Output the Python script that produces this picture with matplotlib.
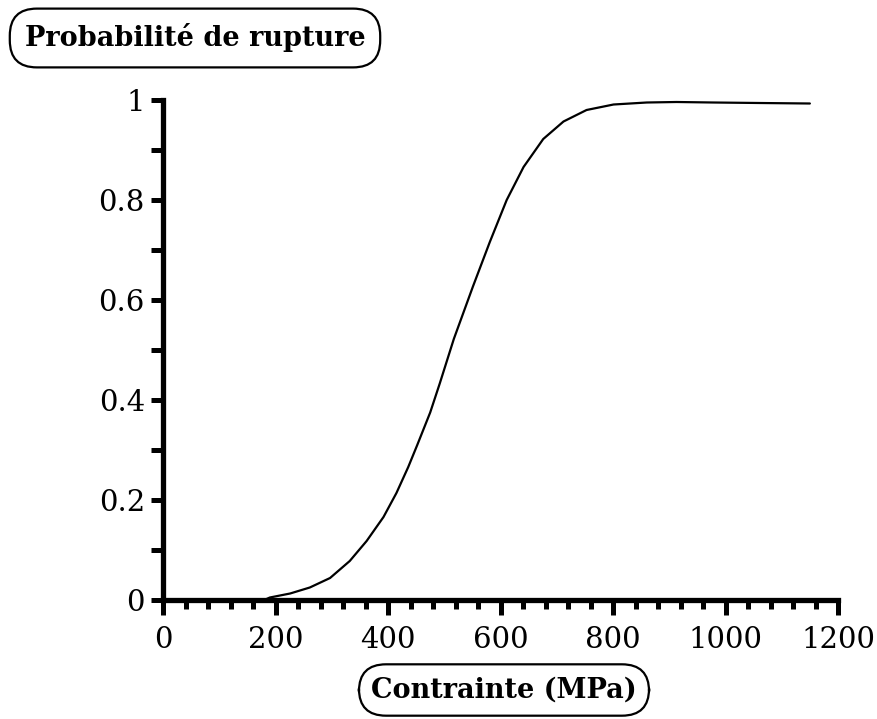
import matplotlib
matplotlib.use("Agg")
import matplotlib.pyplot as plt
from matplotlib.ticker import MultipleLocator, FixedLocator

# Data
stress = [180, 190, 226, 261, 297, 332, 362, 392, 415, 436, 452, 475, 492,
          517, 551, 581, 611, 641, 676, 712, 753, 801, 860, 913, 978, 1060, 1150]
prob = [0.0, 0.005, 0.013, 0.025, 0.044, 0.078, 0.118, 0.166, 0.214, 0.266,
        0.310, 0.375, 0.433, 0.522, 0.627, 0.716, 0.800, 0.866, 0.922, 0.957,
        0.980, 0.991, 0.995, 0.996, 0.995, 0.994, 0.993]

x_major = [0, 200, 400, 600, 800, 1000, 1200]
x_labels = ["0", "200", "400", "600", "800", "1000", "1200"]
y_major = [0, 0.2, 0.4, 0.6, 0.8, 1.0]
y_labels = ["0", "0.2", "0.4", "0.6", "0.8", "1"]
title = "Probabilité de rupture"
xlabel = "Contrainte (MPa)"

W, H = 877, 719
fig = plt.figure(figsize=(W / 100, H / 100), dpi=100)
ax = fig.add_axes([163 / W, 1 - 600 / H, (838 - 163) / W, (600 - 100) / H])

ax.plot(stress, prob, color="black", lw=1.6, solid_capstyle="round",
        solid_joinstyle="round")
ax.set_xlim(0, 1200)
ax.set_ylim(0, 1)

for s in ["top", "right"]:
    ax.spines[s].set_visible(False)
for s in ["left", "bottom"]:
    ax.spines[s].set_linewidth(3.8)
    ax.spines[s].set_capstyle("projecting")

ax.xaxis.set_major_locator(FixedLocator(x_major))
ax.set_xticklabels(x_labels)
ax.xaxis.set_minor_locator(MultipleLocator(40))
ax.yaxis.set_major_locator(FixedLocator(y_major))
ax.set_yticklabels(y_labels)
ax.yaxis.set_minor_locator(MultipleLocator(0.1))

for lab in ax.get_xticklabels() + ax.get_yticklabels():
    lab.set_fontfamily("DejaVu Serif")
    lab.set_fontsize(21)

ax.tick_params(axis="x", which="major", direction="out", length=11, width=3.6, pad=8)
ax.tick_params(axis="x", which="minor", direction="out", length=6.5, width=3.6)
ax.tick_params(axis="y", which="major", direction="out", length=9, width=3.6, pad=4)
ax.tick_params(axis="y", which="minor", direction="out", length=9, width=3.6)

box = dict(boxstyle="round,pad=0.55,rounding_size=1.0", fc="white", ec="black", lw=1.6)
fig.text(195 / W, 1 - 38 / H, title, family="DejaVu Serif", weight="bold",
         fontsize=19.5, ha="center", va="center", bbox=box)
fig.text(504 / W, 1 - 690 / H, xlabel, family="DejaVu Serif", weight="bold",
         fontsize=19.5, ha="center", va="center",
         bbox=dict(boxstyle="round,pad=0.45,rounding_size=1.0", fc="white",
                   ec="black", lw=1.6))

fig.savefig("out.png", dpi=100, facecolor="white")
